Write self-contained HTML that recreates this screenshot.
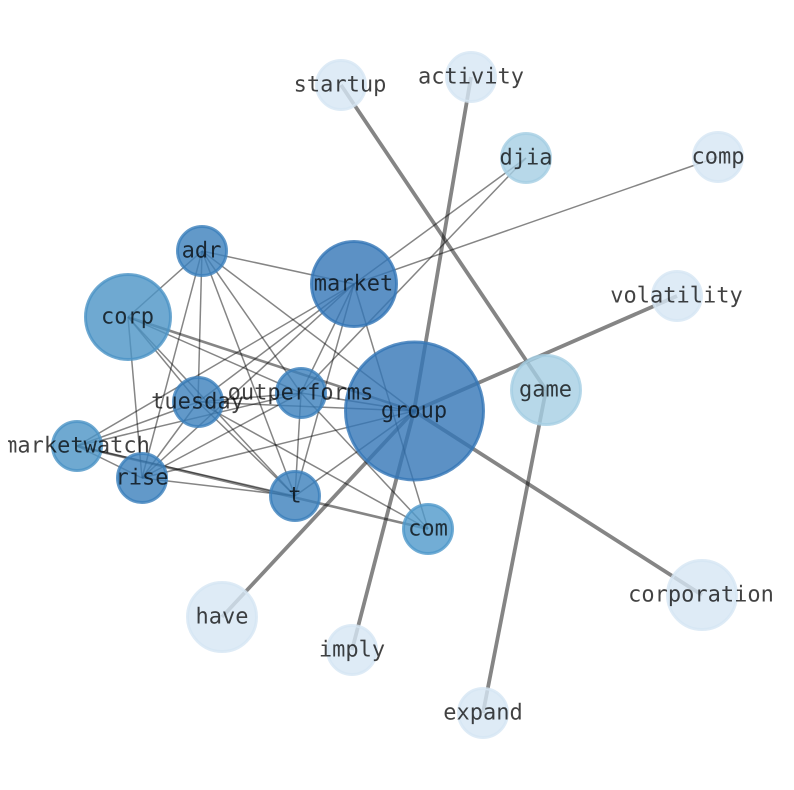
<!DOCTYPE html>
<html><head><meta charset="utf-8"><style>
html,body{margin:0;padding:0;background:#fff;width:794px;height:790px;overflow:hidden}
svg{display:block;filter:blur(.3px)}
text{font-family:"DejaVu Sans Mono","Liberation Mono",monospace;font-size:22px;fill:#000;opacity:.74;text-anchor:middle;dominant-baseline:central;text-rendering:geometricPrecision}
.e{stroke:#000;stroke-opacity:.48;stroke-width:1.5;fill:none}
.e2{stroke:#000;stroke-opacity:.48;stroke-width:2.6;fill:none}
.e3{stroke:#000;stroke-opacity:.48;stroke-width:3.8;fill:none}
.n{fill-opacity:.8;stroke-opacity:.8;stroke-width:3}
</style></head><body>
<svg width="794" height="790" viewBox="0 0 794 790" xmlns="http://www.w3.org/2000/svg">
<defs><clipPath id="c"><rect x="8" y="0" width="786" height="790"/></clipPath></defs>
<g>
<!-- thick -->
<line class="e3" x1="341" y1="85" x2="546" y2="390"/>
<line class="e3" x1="471" y1="77" x2="414" y2="411"/>
<line class="e3" x1="414" y1="411" x2="352" y2="650"/>
<line class="e3" x1="483" y1="713" x2="546" y2="390"/>
<line class="e3" x1="677" y1="296" x2="414" y2="411"/>
<line class="e3" x1="702" y1="595" x2="414" y2="411"/>
<line class="e3" x1="222" y1="617" x2="414" y2="411"/>
<line class="e2" x1="128" y1="317" x2="414" y2="411"/>
<line class="e2" x1="77" y1="446" x2="428" y2="529"/>
<!-- thin -->
<line class="e" x1="526" y1="158" x2="354" y2="284"/>
<line class="e" x1="526" y1="158" x2="301" y2="393"/>
<line class="e" x1="718" y1="157" x2="354" y2="284"/>
<line class="e" x1="354" y1="284" x2="202" y2="251"/>
<line class="e" x1="354" y1="284" x2="198" y2="402"/>
<line class="e" x1="354" y1="284" x2="142" y2="478"/>
<line class="e" x1="354" y1="284" x2="77" y2="446"/>
<line class="e" x1="354" y1="284" x2="301" y2="393"/>
<line class="e" x1="354" y1="284" x2="295" y2="496"/>
<line class="e" x1="354" y1="284" x2="428" y2="529"/>
<line class="e" x1="202" y1="251" x2="128" y2="317"/>
<line class="e" x1="202" y1="251" x2="198" y2="402"/>
<line class="e" x1="202" y1="251" x2="142" y2="478"/>
<line class="e" x1="202" y1="251" x2="295" y2="496"/>
<line class="e" x1="202" y1="251" x2="301" y2="393"/>
<line class="e" x1="202" y1="251" x2="414" y2="411"/>
<line class="e" x1="128" y1="317" x2="142" y2="478"/>
<line class="e" x1="128" y1="317" x2="198" y2="402"/>
<line class="e" x1="128" y1="317" x2="295" y2="496"/>
<line class="e" x1="128" y1="317" x2="301" y2="393"/>
<line class="e" x1="198" y1="402" x2="301" y2="393"/>
<line class="e" x1="198" y1="402" x2="414" y2="411"/>
<line class="e" x1="198" y1="402" x2="142" y2="478"/>
<line class="e" x1="198" y1="402" x2="295" y2="496"/>
<line class="e" x1="198" y1="402" x2="428" y2="529"/>
<line class="e" x1="198" y1="402" x2="77" y2="446"/>
<line class="e" x1="77" y1="446" x2="301" y2="393"/>
<line class="e" x1="77" y1="446" x2="295" y2="496"/>
<line class="e" x1="77" y1="446" x2="142" y2="478"/>
<line class="e" x1="142" y1="478" x2="301" y2="393"/>
<line class="e" x1="142" y1="478" x2="414" y2="411"/>
<line class="e" x1="142" y1="478" x2="295" y2="496"/>
<line class="e" x1="301" y1="393" x2="414" y2="411"/>
<line class="e" x1="301" y1="393" x2="295" y2="496"/>
<line class="e" x1="301" y1="393" x2="428" y2="529"/>
<line class="e" x1="295" y1="496" x2="414" y2="411"/>
</g>
<g>
<circle class="n" cx="414.5" cy="411" r="69" fill="#3375b6" stroke="#3375b6"/>
<circle class="n" cx="354" cy="284" r="42.5" fill="#3375b6" stroke="#3375b6"/>
<circle class="n" cx="128" cy="317" r="42.5" fill="#4b93c6" stroke="#4b93c6"/>
<circle class="n" cx="546" cy="390" r="34.5" fill="#a5cee3" stroke="#a5cee3"/>
<circle class="n" cx="202" cy="251" r="24.5" fill="#3b7fbc" stroke="#3b7fbc"/>
<circle class="n" cx="301" cy="393" r="24.5" fill="#3b7fbc" stroke="#3b7fbc"/>
<circle class="n" cx="198" cy="402" r="24.5" fill="#3b7fbc" stroke="#3b7fbc"/>
<circle class="n" cx="77" cy="446" r="24.5" fill="#4b93c6" stroke="#4b93c6"/>
<circle class="n" cx="142" cy="478" r="24.5" fill="#3b7fbc" stroke="#3b7fbc"/>
<circle class="n" cx="295" cy="496" r="24.5" fill="#3b7fbc" stroke="#3b7fbc"/>
<circle class="n" cx="428" cy="529" r="24.5" fill="#4f99ca" stroke="#4f99ca"/>
<circle class="n" cx="526" cy="158" r="24.5" fill="#a5cee3" stroke="#a5cee3"/>
<circle class="n" cx="702" cy="595" r="34.5" fill="#d6e6f4" stroke="#d6e6f4"/>
<circle class="n" cx="222" cy="617" r="34.5" fill="#d6e6f4" stroke="#d6e6f4"/>
<circle class="n" cx="352" cy="650" r="24.5" fill="#d6e6f4" stroke="#d6e6f4"/>
<circle class="n" cx="483" cy="713" r="24.5" fill="#d6e6f4" stroke="#d6e6f4"/>
<circle class="n" cx="341" cy="85" r="24.5" fill="#d6e6f4" stroke="#d6e6f4"/>
<circle class="n" cx="471" cy="77" r="24.5" fill="#d6e6f4" stroke="#d6e6f4"/>
<circle class="n" cx="718" cy="157" r="24.5" fill="#d6e6f4" stroke="#d6e6f4"/>
<circle class="n" cx="677" cy="296" r="24.5" fill="#d6e6f4" stroke="#d6e6f4"/>
</g>
<g clip-path="url(#c)">
<text x="414" y="411">group</text>
<text x="353.5" y="284">market</text>
<text x="127.5" y="317">corp</text>
<text x="545.5" y="390">game</text>
<text x="201.5" y="251">adr</text>
<text x="300.5" y="393">outperforms</text>
<text x="197.5" y="402">tuesday</text>
<text x="77" y="446">marketwatch</text>
<text x="142" y="478">rise</text>
<text x="295" y="496">t</text>
<text x="428" y="529">com</text>
<text x="526" y="158">djia</text>
<text x="701" y="595">corporation</text>
<text x="222" y="617">have</text>
<text x="352" y="650">imply</text>
<text x="483" y="713">expand</text>
<text x="340" y="85">startup</text>
<text x="471" y="77">activity</text>
<text x="718" y="157">comp</text>
<text x="676.5" y="296">volatility</text>
</g>
</svg>
</body></html>
